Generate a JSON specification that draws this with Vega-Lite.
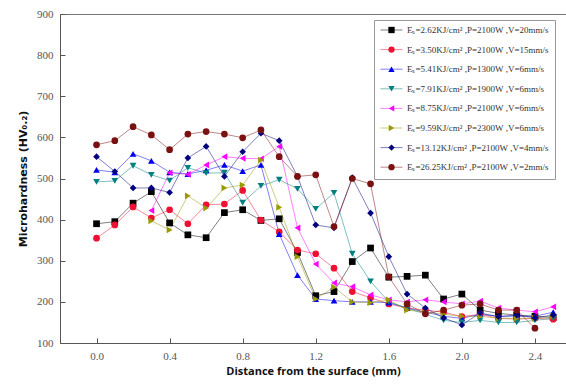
{
  "$schema": "https://vega.github.io/schema/vega-lite/v6.json",
  "width": 506,
  "height": 329,
  "autosize": "none",
  "padding": {"left": 60, "top": 14, "right": 0, "bottom": 44},
  "background": "white",
  "config": {
    "view": {"stroke": "#777", "strokeWidth": 1},
    "axis": {"domainColor": "#555", "tickColor": "#555", "grid": false}
  },
  "datasets": {
    "series": [
      {"s": "A", "label": "Eₛ=2.62KJ/cm² ,P=2100W ,V=20mm/s"},
      {"s": "B", "label": "Eₛ=3.50KJ/cm² ,P=2100W ,V=15mm/s"},
      {"s": "C", "label": "Eₛ=5.41KJ/cm² ,P=1300W ,V=6mm/s"},
      {"s": "D", "label": "Eₛ=7.91KJ/cm² ,P=1900W ,V=6mm/s"},
      {"s": "E", "label": "Eₛ=8.75KJ/cm² ,P=2100W ,V=6mm/s"},
      {"s": "F", "label": "Eₛ=9.59KJ/cm² ,P=2300W ,V=6mm/s"},
      {"s": "G", "label": "Eₛ=13.12KJ/cm² ,P=2100W ,V=4mm/s"},
      {"s": "H", "label": "Eₛ=26.25KJ/cm² ,P=2100W ,V=2mm/s"}
    ],
    "pts": [
      {"s":"A","x":0.0,"y":390},{"s":"A","x":0.1,"y":395},{"s":"A","x":0.2,"y":440},{"s":"A","x":0.3,"y":468},{"s":"A","x":0.4,"y":392},{"s":"A","x":0.5,"y":363},{"s":"A","x":0.6,"y":356},{"s":"A","x":0.7,"y":417},{"s":"A","x":0.8,"y":424},{"s":"A","x":0.9,"y":398},{"s":"A","x":1.0,"y":402},{"s":"A","x":1.1,"y":320},{"s":"A","x":1.2,"y":215},{"s":"A","x":1.3,"y":225},{"s":"A","x":1.4,"y":298},{"s":"A","x":1.5,"y":331},{"s":"A","x":1.6,"y":260},{"s":"A","x":1.7,"y":262},{"s":"A","x":1.8,"y":265},{"s":"A","x":1.9,"y":207},{"s":"A","x":2.0,"y":219},{"s":"A","x":2.1,"y":180},{"s":"A","x":2.2,"y":172},{"s":"A","x":2.3,"y":168},{"s":"A","x":2.4,"y":165},{"s":"A","x":2.5,"y":162},
      {"s":"B","x":0.0,"y":355},{"s":"B","x":0.1,"y":387},{"s":"B","x":0.2,"y":431},{"s":"B","x":0.3,"y":404},{"s":"B","x":0.4,"y":424},{"s":"B","x":0.5,"y":390},{"s":"B","x":0.6,"y":436},{"s":"B","x":0.7,"y":438},{"s":"B","x":0.8,"y":471},{"s":"B","x":0.9,"y":399},{"s":"B","x":1.0,"y":370},{"s":"B","x":1.1,"y":326},{"s":"B","x":1.2,"y":317},{"s":"B","x":1.3,"y":282},{"s":"B","x":1.4,"y":225},{"s":"B","x":1.5,"y":210},{"s":"B","x":1.6,"y":195},{"s":"B","x":1.7,"y":185},{"s":"B","x":1.8,"y":180},{"s":"B","x":1.9,"y":175},{"s":"B","x":2.0,"y":164},{"s":"B","x":2.1,"y":170},{"s":"B","x":2.2,"y":160},{"s":"B","x":2.3,"y":158},{"s":"B","x":2.4,"y":160},{"s":"B","x":2.5,"y":158},
      {"s":"C","x":0.0,"y":521},{"s":"C","x":0.1,"y":515},{"s":"C","x":0.2,"y":560},{"s":"C","x":0.3,"y":543},{"s":"C","x":0.4,"y":515},{"s":"C","x":0.5,"y":511},{"s":"C","x":0.6,"y":520},{"s":"C","x":0.7,"y":533},{"s":"C","x":0.8,"y":518},{"s":"C","x":0.9,"y":533},{"s":"C","x":1.0,"y":365},{"s":"C","x":1.1,"y":265},{"s":"C","x":1.2,"y":207},{"s":"C","x":1.3,"y":203},{"s":"C","x":1.4,"y":200},{"s":"C","x":1.5,"y":200},{"s":"C","x":1.6,"y":198},{"s":"C","x":1.7,"y":185},{"s":"C","x":1.8,"y":175},{"s":"C","x":1.9,"y":165},{"s":"C","x":2.0,"y":160},{"s":"C","x":2.1,"y":170},{"s":"C","x":2.2,"y":165},{"s":"C","x":2.3,"y":165},{"s":"C","x":2.4,"y":165},{"s":"C","x":2.5,"y":175},
      {"s":"D","x":0.0,"y":492},{"s":"D","x":0.1,"y":494},{"s":"D","x":0.2,"y":531},{"s":"D","x":0.3,"y":509},{"s":"D","x":0.4,"y":495},{"s":"D","x":0.5,"y":526},{"s":"D","x":0.6,"y":513},{"s":"D","x":0.7,"y":514},{"s":"D","x":0.8,"y":441},{"s":"D","x":0.9,"y":482},{"s":"D","x":1.0,"y":497},{"s":"D","x":1.1,"y":475},{"s":"D","x":1.2,"y":426},{"s":"D","x":1.3,"y":465},{"s":"D","x":1.4,"y":317},{"s":"D","x":1.5,"y":250},{"s":"D","x":1.6,"y":200},{"s":"D","x":1.7,"y":185},{"s":"D","x":1.8,"y":170},{"s":"D","x":1.9,"y":155},{"s":"D","x":2.0,"y":150},{"s":"D","x":2.1,"y":155},{"s":"D","x":2.2,"y":150},{"s":"D","x":2.3,"y":150},{"s":"D","x":2.4,"y":155},{"s":"D","x":2.5,"y":160},
      {"s":"E","x":0.3,"y":422},{"s":"E","x":0.4,"y":514},{"s":"E","x":0.5,"y":510},{"s":"E","x":0.6,"y":533},{"s":"E","x":0.7,"y":553},{"s":"E","x":0.8,"y":549},{"s":"E","x":0.9,"y":548},{"s":"E","x":1.0,"y":578},{"s":"E","x":1.1,"y":380},{"s":"E","x":1.2,"y":292},{"s":"E","x":1.3,"y":246},{"s":"E","x":1.4,"y":237},{"s":"E","x":1.5,"y":217},{"s":"E","x":1.6,"y":205},{"s":"E","x":1.7,"y":200},{"s":"E","x":1.8,"y":205},{"s":"E","x":1.9,"y":200},{"s":"E","x":2.0,"y":195},{"s":"E","x":2.1,"y":202},{"s":"E","x":2.2,"y":185},{"s":"E","x":2.3,"y":180},{"s":"E","x":2.4,"y":176},{"s":"E","x":2.5,"y":188},
      {"s":"F","x":0.3,"y":397},{"s":"F","x":0.4,"y":375},{"s":"F","x":0.5,"y":458},{"s":"F","x":0.6,"y":428},{"s":"F","x":0.7,"y":477},{"s":"F","x":0.8,"y":484},{"s":"F","x":0.9,"y":545},{"s":"F","x":1.0,"y":430},{"s":"F","x":1.1,"y":310},{"s":"F","x":1.2,"y":207},{"s":"F","x":1.3,"y":236},{"s":"F","x":1.4,"y":200},{"s":"F","x":1.5,"y":198},{"s":"F","x":1.6,"y":205},{"s":"F","x":1.7,"y":180},{"s":"F","x":1.8,"y":175},{"s":"F","x":1.9,"y":170},{"s":"F","x":2.0,"y":165},{"s":"F","x":2.1,"y":165},{"s":"F","x":2.2,"y":160},{"s":"F","x":2.3,"y":160},{"s":"F","x":2.4,"y":160},{"s":"F","x":2.5,"y":165},
      {"s":"G","x":0.0,"y":553},{"s":"G","x":0.1,"y":517},{"s":"G","x":0.2,"y":477},{"s":"G","x":0.3,"y":477},{"s":"G","x":0.4,"y":466},{"s":"G","x":0.5,"y":550},{"s":"G","x":0.6,"y":578},{"s":"G","x":0.7,"y":505},{"s":"G","x":0.8,"y":565},{"s":"G","x":0.9,"y":610},{"s":"G","x":1.0,"y":592},{"s":"G","x":1.1,"y":505},{"s":"G","x":1.2,"y":387},{"s":"G","x":1.3,"y":380},{"s":"G","x":1.4,"y":502},{"s":"G","x":1.5,"y":416},{"s":"G","x":1.6,"y":310},{"s":"G","x":1.7,"y":219},{"s":"G","x":1.8,"y":185},{"s":"G","x":1.9,"y":161},{"s":"G","x":2.0,"y":144},{"s":"G","x":2.1,"y":173},{"s":"G","x":2.2,"y":164},{"s":"G","x":2.3,"y":168},{"s":"G","x":2.4,"y":161},{"s":"G","x":2.5,"y":168},
      {"s":"H","x":0.0,"y":582},{"s":"H","x":0.1,"y":592},{"s":"H","x":0.2,"y":626},{"s":"H","x":0.3,"y":606},{"s":"H","x":0.4,"y":570},{"s":"H","x":0.5,"y":608},{"s":"H","x":0.6,"y":614},{"s":"H","x":0.7,"y":608},{"s":"H","x":0.8,"y":599},{"s":"H","x":0.9,"y":618},{"s":"H","x":1.0,"y":553},{"s":"H","x":1.1,"y":505},{"s":"H","x":1.2,"y":509},{"s":"H","x":1.3,"y":383},{"s":"H","x":1.4,"y":500},{"s":"H","x":1.5,"y":487},{"s":"H","x":1.6,"y":261},{"s":"H","x":1.7,"y":195},{"s":"H","x":1.8,"y":171},{"s":"H","x":1.9,"y":180},{"s":"H","x":2.0,"y":192},{"s":"H","x":2.1,"y":195},{"s":"H","x":2.2,"y":180},{"s":"H","x":2.3,"y":180},{"s":"H","x":2.4,"y":136}
    ]
  },
  "data": {"name": "pts"},
  "transform": [
    {"lookup": "s", "from": {"data": {"name": "series"}, "key": "s", "fields": ["label"]}}
  ],
  "layer": [
    {
      "mark": {"type": "line", "strokeWidth": 1, "opacity": 0.5},
      "encoding": {
        "x": {"field": "x", "type": "quantitative", "scale": {"domain": [-0.2, 2.57], "nice": false, "zero": false},
          "axis": {"values": [0, 0.4, 0.8, 1.2, 1.6, 2.0, 2.4], "format": ".1f", "tickSize": -5, "labelPadding": 12,
            "labelFont": "Liberation Serif", "labelFontSize": 11, "labelColor": "#555",
            "title": "Distance from the surface  (mm)", "titleFont": "Open Sans", "titleFontWeight": "bold", "titleFontSize": 11, "titleColor": "#111", "titlePadding": 4}},
        "y": {"field": "y", "type": "quantitative", "scale": {"domain": [100, 900], "nice": false, "zero": false},
          "axis": {"values": [100, 200, 300, 400, 500, 600, 700, 800, 900], "tickSize": -5, "labelPadding": 12,
            "labelFont": "Liberation Serif", "labelFontSize": 11, "labelColor": "#555",
            "title": "Microhardness  (HV₀.₂)", "titleFont": "DejaVu Sans", "titleFontWeight": "bold", "titleFontSize": 11, "titleColor": "#111", "titlePadding": 8}},
        "color": {"field": "label", "type": "nominal",
          "scale": {"domain": ["Eₛ=2.62KJ/cm² ,P=2100W ,V=20mm/s", "Eₛ=3.50KJ/cm² ,P=2100W ,V=15mm/s", "Eₛ=5.41KJ/cm² ,P=1300W ,V=6mm/s", "Eₛ=7.91KJ/cm² ,P=1900W ,V=6mm/s", "Eₛ=8.75KJ/cm² ,P=2100W ,V=6mm/s", "Eₛ=9.59KJ/cm² ,P=2300W ,V=6mm/s", "Eₛ=13.12KJ/cm² ,P=2100W ,V=4mm/s", "Eₛ=26.25KJ/cm² ,P=2100W ,V=2mm/s"],
            "range": ["#000000", "#ee1133", "#0000ee", "#008080", "#ff00ff", "#9a9a00", "#000080", "#7a1010"]},
          "legend": {"orient": "none", "legendX": 314, "legendY": 6, "title": null, "symbolType": "stroke", "symbolSize": 484, "symbolStrokeWidth": 1, "symbolOpacity": 0.5,
            "clipHeight": 8,
            "labelFont": "Liberation Serif", "labelFontSize": 9, "labelColor": "#333", "labelOffset": 4, "rowPadding": 10.6,
            "padding": 6, "strokeColor": "#999", "fillColor": "white", "labelLimit": 300}}
      }
    },
    {
      "mark": {"type": "point", "filled": true, "size": 45, "opacity": 1},
      "encoding": {
        "x": {"field": "x", "type": "quantitative"},
        "y": {"field": "y", "type": "quantitative"},
        "color": {"field": "label", "type": "nominal",
          "legend": {"orient": "none", "legendX": 321, "legendY": 6, "title": null, "symbolSize": 40, "clipHeight": 8, "symbolOpacity": 1,
            "labelExpr": "''", "labelFontSize": 9, "labelOffset": 4, "rowPadding": 10.6, "padding": 6,
            "encode": {"symbols": {"update": {"shape": {"scale": "shape", "field": "value"}}}}}},
        "shape": {"field": "label", "type": "nominal",
          "scale": {"domain": ["Eₛ=2.62KJ/cm² ,P=2100W ,V=20mm/s", "Eₛ=3.50KJ/cm² ,P=2100W ,V=15mm/s", "Eₛ=5.41KJ/cm² ,P=1300W ,V=6mm/s", "Eₛ=7.91KJ/cm² ,P=1900W ,V=6mm/s", "Eₛ=8.75KJ/cm² ,P=2100W ,V=6mm/s", "Eₛ=9.59KJ/cm² ,P=2300W ,V=6mm/s", "Eₛ=13.12KJ/cm² ,P=2100W ,V=4mm/s", "Eₛ=26.25KJ/cm² ,P=2100W ,V=2mm/s"],
            "range": ["square", "circle", "triangle-up", "triangle-down", "triangle-left", "triangle-right", "diamond", "circle"]},
          "legend": null}
      }
    }
  ],
  "resolve": {"legend": {"color": "independent"}}
}
